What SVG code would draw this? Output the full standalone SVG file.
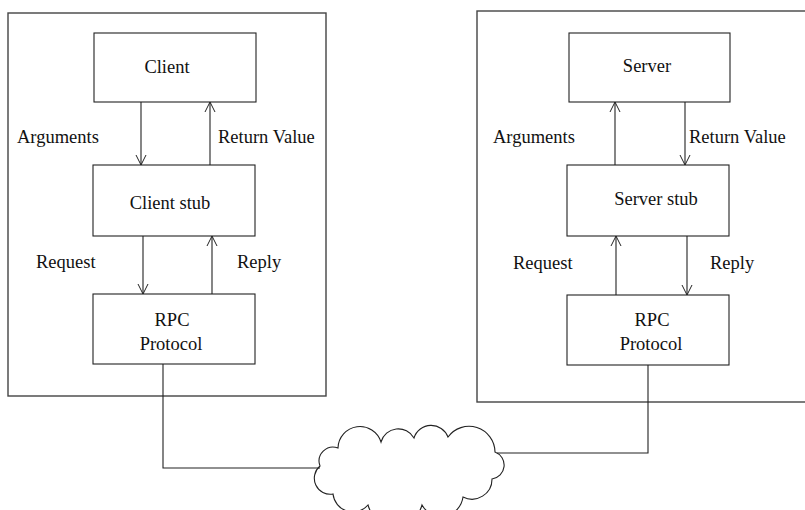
<svg xmlns="http://www.w3.org/2000/svg" width="805" height="510" viewBox="0 0 805 510">
<defs>
<style>
.outer{fill:none;stroke:#444;stroke-width:1.4}
.box{fill:#fff;stroke:#222;stroke-width:1.1}
.ln{fill:none;stroke:#222;stroke-width:1.1}
.t{font-family:"Liberation Serif","Times New Roman",serif;font-size:18.5px;fill:#111}
.c{text-anchor:middle}
</style>
<marker id="ah" viewBox="0 0 12 12" refX="11" refY="6" markerWidth="12" markerHeight="12" markerUnits="userSpaceOnUse" orient="auto">
<path d="M1,1 L11,6 L1,11" fill="none" stroke="#222" stroke-width="1"/>
</marker>
</defs>
<rect width="805" height="510" fill="#fff"/>
<g id="client-machine">
<rect class="outer" x="8" y="13" width="318" height="383"/>
</g>
<g id="server-machine">
<rect class="outer" x="477" y="11" width="332" height="391"/>
</g>
<g id="client">
<rect class="box" x="94" y="33" width="162" height="69"/>
<text class="t c" x="167" y="73">Client</text>
</g>
<g id="client-stub">
<rect class="box" x="93" y="165" width="162" height="71"/>
<text class="t c" x="170" y="209">Client stub</text>
</g>
<g id="client-rpc">
<rect class="box" x="93" y="294" width="162" height="70"/>
<text class="t c" x="172" y="326">RPC</text>
<text class="t c" x="171" y="350">Protocol</text>
</g>
<g id="server">
<rect class="box" x="569" y="33" width="161" height="69"/>
<text class="t c" x="647" y="72">Server</text>
</g>
<g id="server-stub">
<rect class="box" x="567" y="165" width="162" height="71"/>
<text class="t c" x="656" y="205">Server stub</text>
</g>
<g id="server-rpc">
<rect class="box" x="567" y="295" width="162" height="70"/>
<text class="t c" x="652" y="326">RPC</text>
<text class="t c" x="651" y="350">Protocol</text>
</g>
<g id="network">
<path class="ln" fill="#fff" d="M320,466 A14,14 0 0,1 338,448 A22,22 0 0,1 381,442 A18,18 0 0,1 414,438 A18,18 0 0,1 448,437 A26,26 0 0,1 495,452 A14,14 0 0,1 492,479 A20,20 0 0,1 463,497 A22,22 0 0,1 422,505 A28,28 0 0,1 368,505 A20,20 0 0,1 333,494 A16,16 0 0,1 320,466 Z"/>
</g>
<g id="connectors">
<line class="ln" x1="141" y1="102" x2="141" y2="165" marker-end="url(#ah)"/>
<line class="ln" x1="210" y1="165" x2="210" y2="102" marker-end="url(#ah)"/>
<line class="ln" x1="143" y1="236" x2="143" y2="294" marker-end="url(#ah)"/>
<line class="ln" x1="212" y1="294" x2="212" y2="236" marker-end="url(#ah)"/>
<line class="ln" x1="615" y1="165" x2="615" y2="102" marker-end="url(#ah)"/>
<line class="ln" x1="685" y1="102" x2="685" y2="165" marker-end="url(#ah)"/>
<line class="ln" x1="616" y1="295" x2="616" y2="236" marker-end="url(#ah)"/>
<line class="ln" x1="687" y1="236" x2="687" y2="295" marker-end="url(#ah)"/>
<path class="ln" d="M163,364 V468 H320"/>
<path class="ln" d="M497,453 H648 V365"/>
</g>
<g id="labels">
<text class="t" x="17" y="143">Arguments</text>
<text class="t" x="218" y="143">Return Value</text>
<text class="t" x="36" y="268">Request</text>
<text class="t" x="237" y="268">Reply</text>
<text class="t" x="493" y="143">Arguments</text>
<text class="t" x="689" y="143">Return Value</text>
<text class="t" x="513" y="269">Request</text>
<text class="t" x="710" y="269">Reply</text>
</g>
</svg>
